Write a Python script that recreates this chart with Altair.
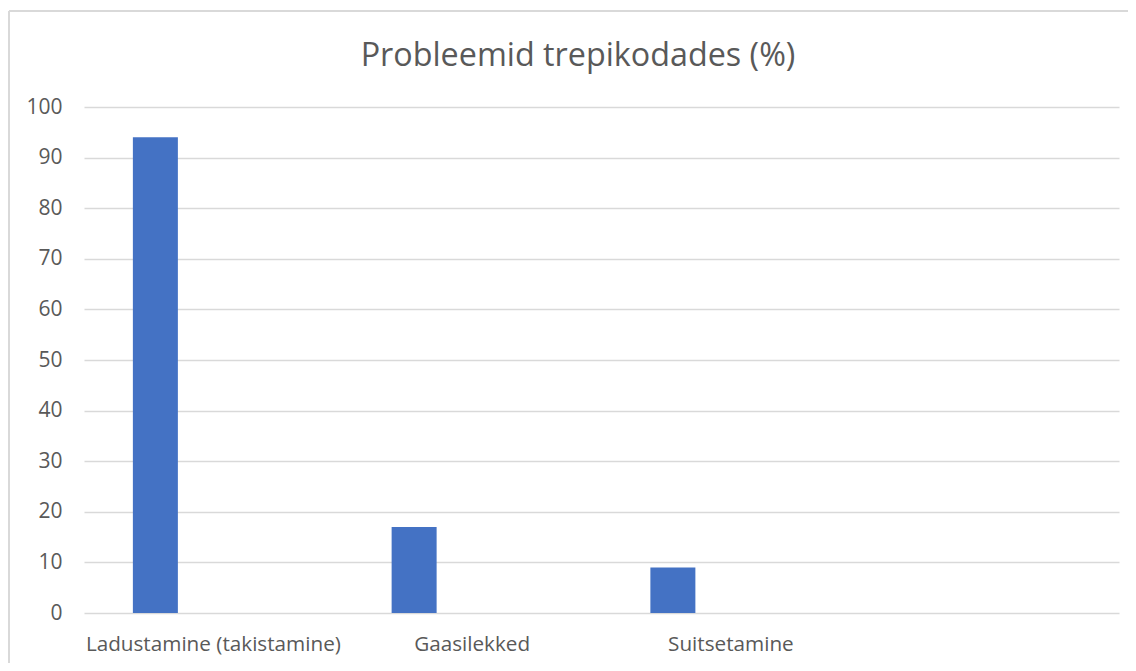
import altair as alt
import pandas as pd

title_text = "Probleemid trepikodades (%)"
categories = ["Ladustamine (takistamine)", "Gaasilekked", "Suitsetamine", " "]
values = [94, 17, 9, None]
y_ticks = [0, 10, 20, 30, 40, 50, 60, 70, 80, 90, 100]

df = pd.DataFrame({"kategooria": categories[:3], "protsent": values[:3]})

FONT = "Open Sans"
TEXT = "#595959"
GRID = "#D9D9D9"

bars = alt.Chart(df).mark_bar(size=45, xOffset=-58, color="#4472C4").encode(
    x=alt.X("kategooria:N", sort=categories,
            scale=alt.Scale(domain=categories, paddingInner=0, paddingOuter=0),
            axis=alt.Axis(title=None, labelAngle=0, ticks=False, domain=False,
                          labelPadding=21, labelFontSize=20.7, labelColor=TEXT,
                          labelFont=FONT, grid=False, labelLimit=0)),
    y=alt.Y("protsent:Q",
            scale=alt.Scale(domain=[0, 100], nice=False),
            axis=alt.Axis(title=None, values=y_ticks, ticks=False, domain=False,
                          labelPadding=22, labelFontSize=21, labelColor=TEXT,
                          labelFont=FONT, gridColor=GRID, gridWidth=1.3)),
)

border_top = alt.Chart(df).mark_rule(color=GRID, strokeWidth=1.5, clip=False).encode(
    x=alt.value(-75), x2=alt.value(1060), y=alt.value(-96))
border_left = alt.Chart(df).mark_rule(color=GRID, strokeWidth=1.5, clip=False).encode(
    x=alt.value(-75), y=alt.value(-96), y2=alt.value(570))

title = alt.Chart(pd.DataFrame({"t": [title_text]})).mark_text(
    font=FONT, fontSize=32.3, color=TEXT, align="center", baseline="alphabetic",
    clip=False,
).encode(x=alt.value(494), y=alt.value(-41), text="t:N")

chart = alt.layer(border_top, border_left, bars, title).properties(
    width=1035, height=506,
    padding={"left": 76, "top": 99, "right": 9, "bottom": 50},
    autosize=alt.AutoSizeParams(type="none"),
    background="white",
).configure_view(stroke=None)

chart.save("out.html", embed_options={"renderer": "svg", "actions": False})
